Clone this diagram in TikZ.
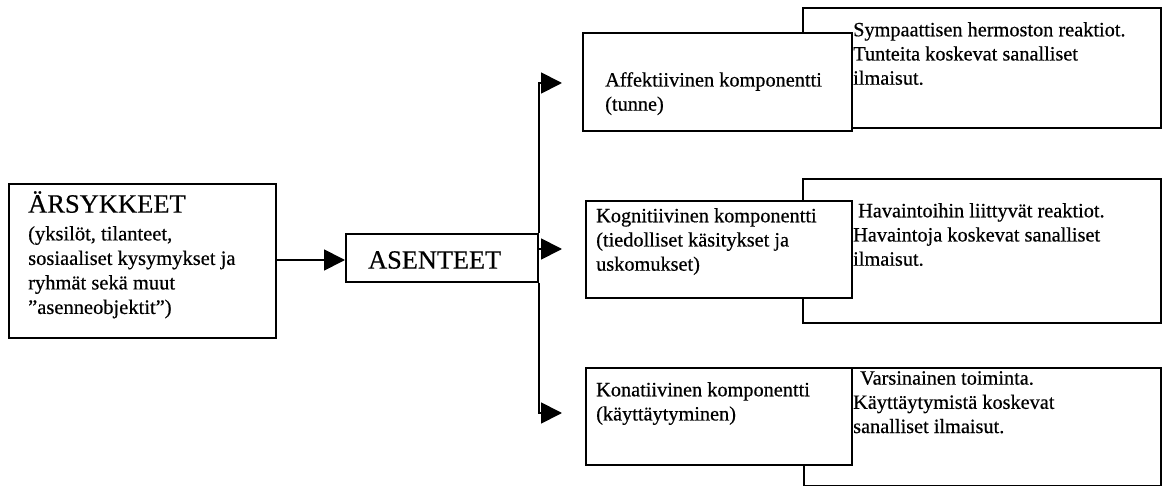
\documentclass[tikz,border=0pt]{standalone}
\usepackage{fontspec}
\setmainfont[FakeBold=0.5]{Liberation Serif}
\usetikzlibrary{arrows.meta}
\tikzset{
  box/.style={draw, line width=1.8pt, fill=white, inner sep=0pt, anchor=north west},
  txt/.style={inner sep=0pt, anchor=north west, align=left, font=\fontsize{20.3}{24.2}\selectfont},
  arr/.style={line width=1.8pt, -{Triangle[length=21pt,width=21pt]}},
}
\begin{document}
\begin{tikzpicture}[x=1pt,y=-1pt]
\useasboundingbox (0,0) rectangle (1164,486);
% left box
\node[box, minimum width=267pt, minimum height=154pt] (ars) at (8,183) {};
\node[txt, font=\fontsize{26.5}{30}\selectfont] (arst) at (28,191) {ÄRSYKKEET};
\node[txt, font=\fontsize{20.5}{24.5}\selectfont] (arsd) at (28,226) {(yksilöt, tilanteet,\\sosiaaliset kysymykset ja\\ryhmät sekä muut\\”asenneobjektit”)};
% attitudes box
\node[box, minimum width=192pt, minimum height=48pt] (asen) at (345,233) {};
\node[txt, font=\fontsize{26.3}{28}\selectfont, anchor=west] (asent) at (368,260) {ASENTEET};
% right boxes (behind)
\node[box, minimum width=358pt, minimum height=120pt] (r1) at (802,7) {};
\node[box, minimum width=358pt, minimum height=144pt] (r2) at (802,178) {};
\node[box, minimum width=357pt, minimum height=118pt] (r3) at (803,367) {};
% component boxes
\node[box, minimum width=269pt, minimum height=98pt] (aff) at (582,32) {};
\node[box, minimum width=266pt, minimum height=97pt] (kog) at (585,200) {};
\node[box, minimum width=266pt, minimum height=97pt] (kon) at (585,367) {};
% component texts
\node[txt] (afft) at (605,72) {Affektiivinen komponentti\\(tunne)};
\node[txt] (kogt) at (596,208) {Kognitiivinen komponentti\\(tiedolliset käsitykset ja\\uskomukset)};
\node[txt] (kont) at (596,382) {Konatiivinen komponentti\\(käyttäytyminen)};
% right texts
\node[txt] (r1t) at (853,22) {Sympaattisen hermoston reaktiot.\\Tunteita koskevat sanalliset\\ilmaisut.};
\node[txt] (r2t) at (853,203) {\hspace*{5pt}Havaintoihin liittyvät reaktiot.\\Havaintoja koskevat sanalliset\\ilmaisut.};
\node[txt] (r3t) at (853,371) {\hspace*{7pt}Varsinainen toiminta.\\Käyttäytymistä koskevat\\sanalliset ilmaisut.};
% connectors
\coordinate (a1) at (562,83);
\coordinate (a2) at (562,249);
\coordinate (a3) at (562,413);
\draw[arr] (ars.east |- 0,260) -- (asen.west |- 0,260);
\draw[arr] (asen.north east) |- (a1);
\draw[arr] (asen.south east) |- (a3);
\draw[arr] (asen.east |- a2) -- (a2);
\end{tikzpicture}
\end{document}
